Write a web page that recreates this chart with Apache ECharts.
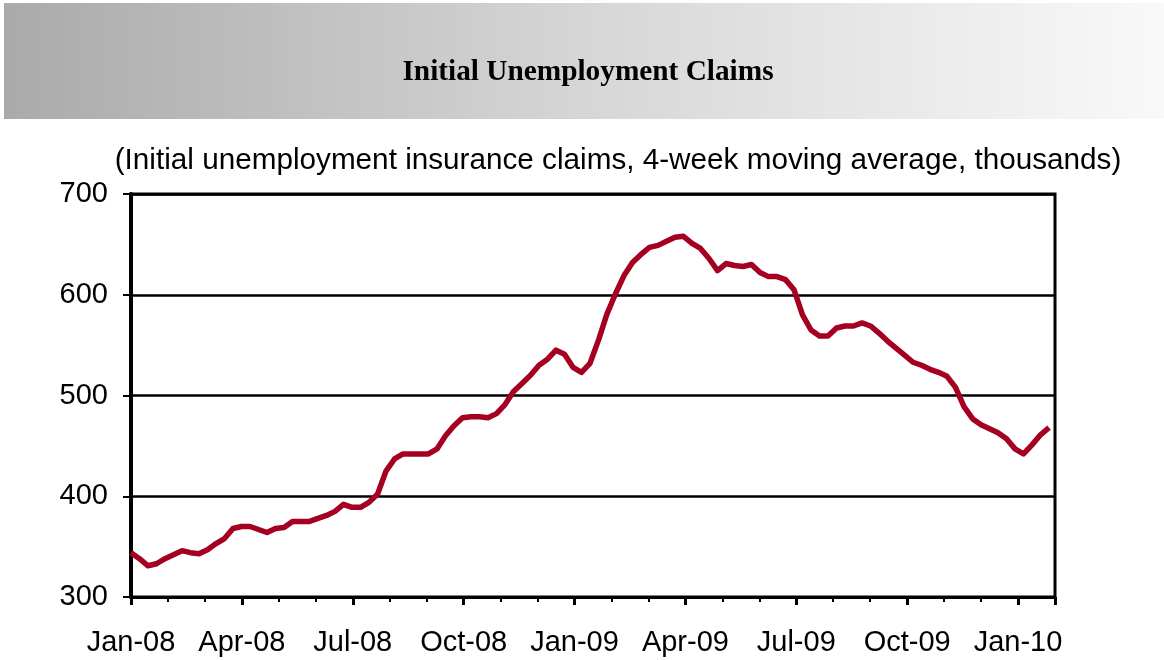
<!DOCTYPE html>
<html>
<head>
<meta charset="utf-8">
<title>Initial Unemployment Claims</title>
<script src="https://cdn.jsdelivr.net/npm/echarts@6/dist/echarts.min.js"></script>
<style>
  html, body { margin: 0; padding: 0; background: #fff; }
  #chart { width: 1164px; height: 660px; }
</style>
</head>
<body>
<div id="chart"></div>
<script>
// weekly 4-week moving average of initial claims (thousands), first week of Jan-08 onward
const claims = [
  344, 338, 331, 333, 338, 342, 346, 344, 343, 347,
  353, 358, 368, 370, 370, 367, 364, 368, 369, 375,
  375, 375, 378, 381, 385, 392, 389, 389, 394, 402,
  425, 437, 442, 442, 442, 442, 447, 460, 470, 478,
  479, 479, 478, 482, 491, 504, 512, 520, 530, 536,
  545, 541, 528, 523, 532, 555, 581, 601, 619, 632,
  640, 647, 649, 653, 657, 658, 651, 646, 636, 624,
  631, 629, 628, 630, 622, 618, 618, 615, 605, 580,
  565, 559, 559, 567, 569, 569, 572, 569, 562, 554,
  547, 540, 533, 530, 526, 523, 519, 508, 489, 477,
  471, 467, 463, 457, 447, 442, 451, 461, 468
];
const tickLabels = ['Jan-08', 'Apr-08', 'Jul-08', 'Oct-08', 'Jan-09', 'Apr-09', 'Jul-09', 'Oct-09', 'Jan-10'];
const yTicks = [300, 400, 500, 600, 700];

// x position of each week, counted in months from Jan-08
const monthLen = 365.25 / 12;
const points = claims.map(function (v, i) {
  return [i * 7 / monthLen, v];
});

var myChart = echarts.init(document.getElementById('chart'));

const option = {
  backgroundColor: '#fff',
  animation: false,
  graphic: [
    {
      type: 'rect',
      z: -10,
      shape: { x: 4, y: 3, width: 1160, height: 116 },
      style: {
        fill: new echarts.graphic.LinearGradient(0, 0, 1, 0, [
          { offset: 0, color: '#aaaaaa' },
          { offset: 0.5, color: '#d6d6d6' },
          { offset: 1, color: '#f9f9f9' }
        ])
      }
    }
  ],
  title: [
    {
      text: 'Initial Unemployment Claims',
      left: 583,
      textAlign: 'center',
      top: 53,
      textStyle: {
        fontFamily: 'Liberation Serif',
        fontWeight: 'bold',
        fontSize: 29.3,
        color: '#000'
      }
    },
    {
      text: '(Initial unemployment insurance claims, 4-week moving average, thousands)',
      left: 613,
      textAlign: 'center',
      top: 141,
      textStyle: {
        fontFamily: 'Liberation Sans',
        fontWeight: 'normal',
        fontSize: 29.7,
        color: '#000'
      }
    }
  ],
  grid: {
    left: 131,
    right: 109,
    top: 194,
    bottom: 63,
    show: true,
    borderColor: '#000',
    borderWidth: 3
  },
  xAxis: {
    type: 'value',
    min: 0,
    max: 25,
    interval: 3,
    axisLine: { show: true, onZero: false, lineStyle: { color: '#000', width: 3 } },
    axisTick: { show: true, length: 8, lineStyle: { color: '#000', width: 3 } },
    minorTick: { show: true, splitNumber: 3, length: 5, lineStyle: { color: '#000', width: 2 } },
    splitLine: { show: false },
    axisLabel: {
      margin: 31,
      fontFamily: 'Liberation Sans',
      fontSize: 29,
      color: '#000',
      formatter: function (v) {
        return v % 3 === 0 ? tickLabels[v / 3] : '';
      }
    }
  },
  yAxis: {
    type: 'value',
    min: yTicks[0],
    max: yTicks[yTicks.length - 1],
    interval: 100,
    axisLine: { show: true, lineStyle: { color: '#000', width: 4 } },
    axisTick: { show: true, length: 8, lineStyle: { color: '#000', width: 2 } },
    splitLine: { show: true, lineStyle: { color: '#000', width: 2.5 } },
    axisLabel: {
      margin: 23,
      fontFamily: 'Liberation Sans',
      fontSize: 29,
      color: '#000'
    }
  },
  series: [
    {
      name: 'Initial claims',
      type: 'line',
      showSymbol: false,
      data: points,
      lineStyle: { color: '#a50021', width: 5.5, join: 'round' },
      itemStyle: { color: '#a50021' }
    }
  ]
};

option && myChart.setOption(option);
</script>
</body>
</html>
